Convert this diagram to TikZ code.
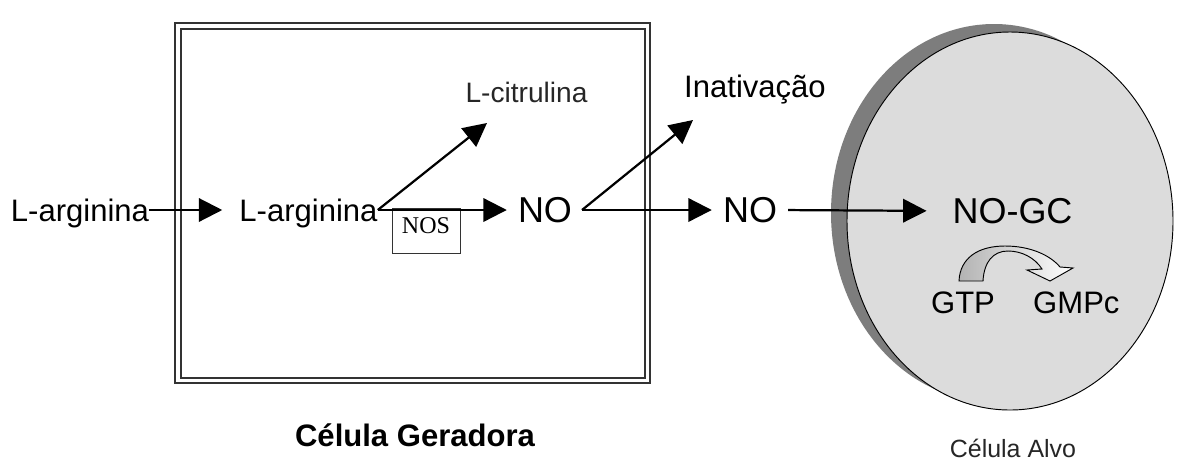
\documentclass[tikz,border=0pt]{standalone}
\usepackage{fontspec}
\setmainfont{Liberation Sans}
\newfontfamily\nosfont{Liberation Serif}
\usetikzlibrary{arrows.meta}

\definecolor{boxline}{HTML}{333333}
\definecolor{cellfill}{HTML}{DCDCDC}
\definecolor{cellshadow}{HTML}{7D7D7D}

\begin{document}
\begin{tikzpicture}[x=0.03cm,y=-0.03cm,
  lbl/.style={inner sep=0pt, font=\fontsize{26.5pt}{30pt}\selectfont, text height=19pt, text depth=0pt},
  biglbl/.style={lbl, font=\fontsize{30.7pt}{34pt}\selectfont, text height=22pt},
  smalllbl/.style={lbl, font=\fontsize{24pt}{28pt}\selectfont, text height=17pt},
  caption/.style={lbl, font=\fontsize{21.3pt}{25pt}\selectfont, text height=15.3pt},
  flow/.style={line width=1.9pt, -{Triangle[length=20pt,width=20pt]}},
  frame/.style={draw=boxline, line width=1.6pt}
]
\useasboundingbox (0,0) rectangle (1178,463);

% generating cell: double frame
\draw[frame] (175,23) rectangle (650,383);
\draw[frame] (181,29) rectangle (645,378);

% target cell with its shadow
\fill[cellshadow] (994,213) ellipse [x radius=163, y radius=189];
\draw[black, line width=0.8pt, fill=cellfill] (1010,221) ellipse [x radius=163, y radius=189];

% labels
\node[lbl] (arg1) at (80,210) {L-arginina};
\node[lbl] (arg2) at (308.5,210) {L-arginina};
\node[biglbl] (no1) at (545,210) {NO};
\node[biglbl] (no2) at (750,210) {NO};
\node[biglbl] (nogc) at (1012.5,211) {NO-GC};
\node[smalllbl, text=black!85] (cit) at (526.5,93) {L-citrulina};
\node[lbl] (inat) at (755,86.5) {Inativação};
\node[lbl] (gtp) at (963,302) {GTP};
\node[lbl, anchor=west] (gmpc) at (1033,302) {GMPc};
\node[lbl, font=\bfseries\fontsize{26.5pt}{30pt}\selectfont] (gen) at (415,435) {Célula Geradora};
\node[caption, text=black!85] (alvo) at (1013,449) {Célula Alvo};

% enzyme box
\node[draw=boxline, line width=0.8pt, anchor=north, inner sep=0pt,
      minimum width=58pt, text height=21.4pt, text depth=17pt,
      font=\nosfont\fontsize{20.5pt}{24pt}\selectfont] (nos) at (426,208) {NOS};

% branch points and free arrow ends
\coordinate (citTip) at (487,123);
\coordinate (fork) at (582,210);
\coordinate (inTip) at (693,120);

% pathway arrows
\draw[flow, shorten >=14.5pt] (arg1.east) -- (arg2.west);
\draw[flow, shorten >=9.4pt] (arg2.east) -- (no1.west);
\draw[flow] (arg2.east) -- (citTip);
\draw[flow, shorten >=9.4pt] (fork) -- (no2.west);
\draw[flow] (fork) -- (inTip);
\draw[flow, shorten <=9.4pt, shorten >=22pt] (no2.east) -- (nogc.west);

% curved block arrow GTP -> GMPc
\draw[black, line width=0.8pt, left color=black!30, right color=white]
  (959,281) .. controls (960,258) and (978,246) .. (1005,246)
  .. controls (1030,246) and (1050,255) .. (1060,267)
  -- (1073,268) -- (1050,281) -- (1027,270) -- (1042,269)
  .. controls (1035,258) and (1022,251) .. (1008,251)
  .. controls (993,251) and (984,262) .. (983,281) -- cycle;
\end{tikzpicture}
\end{document}
